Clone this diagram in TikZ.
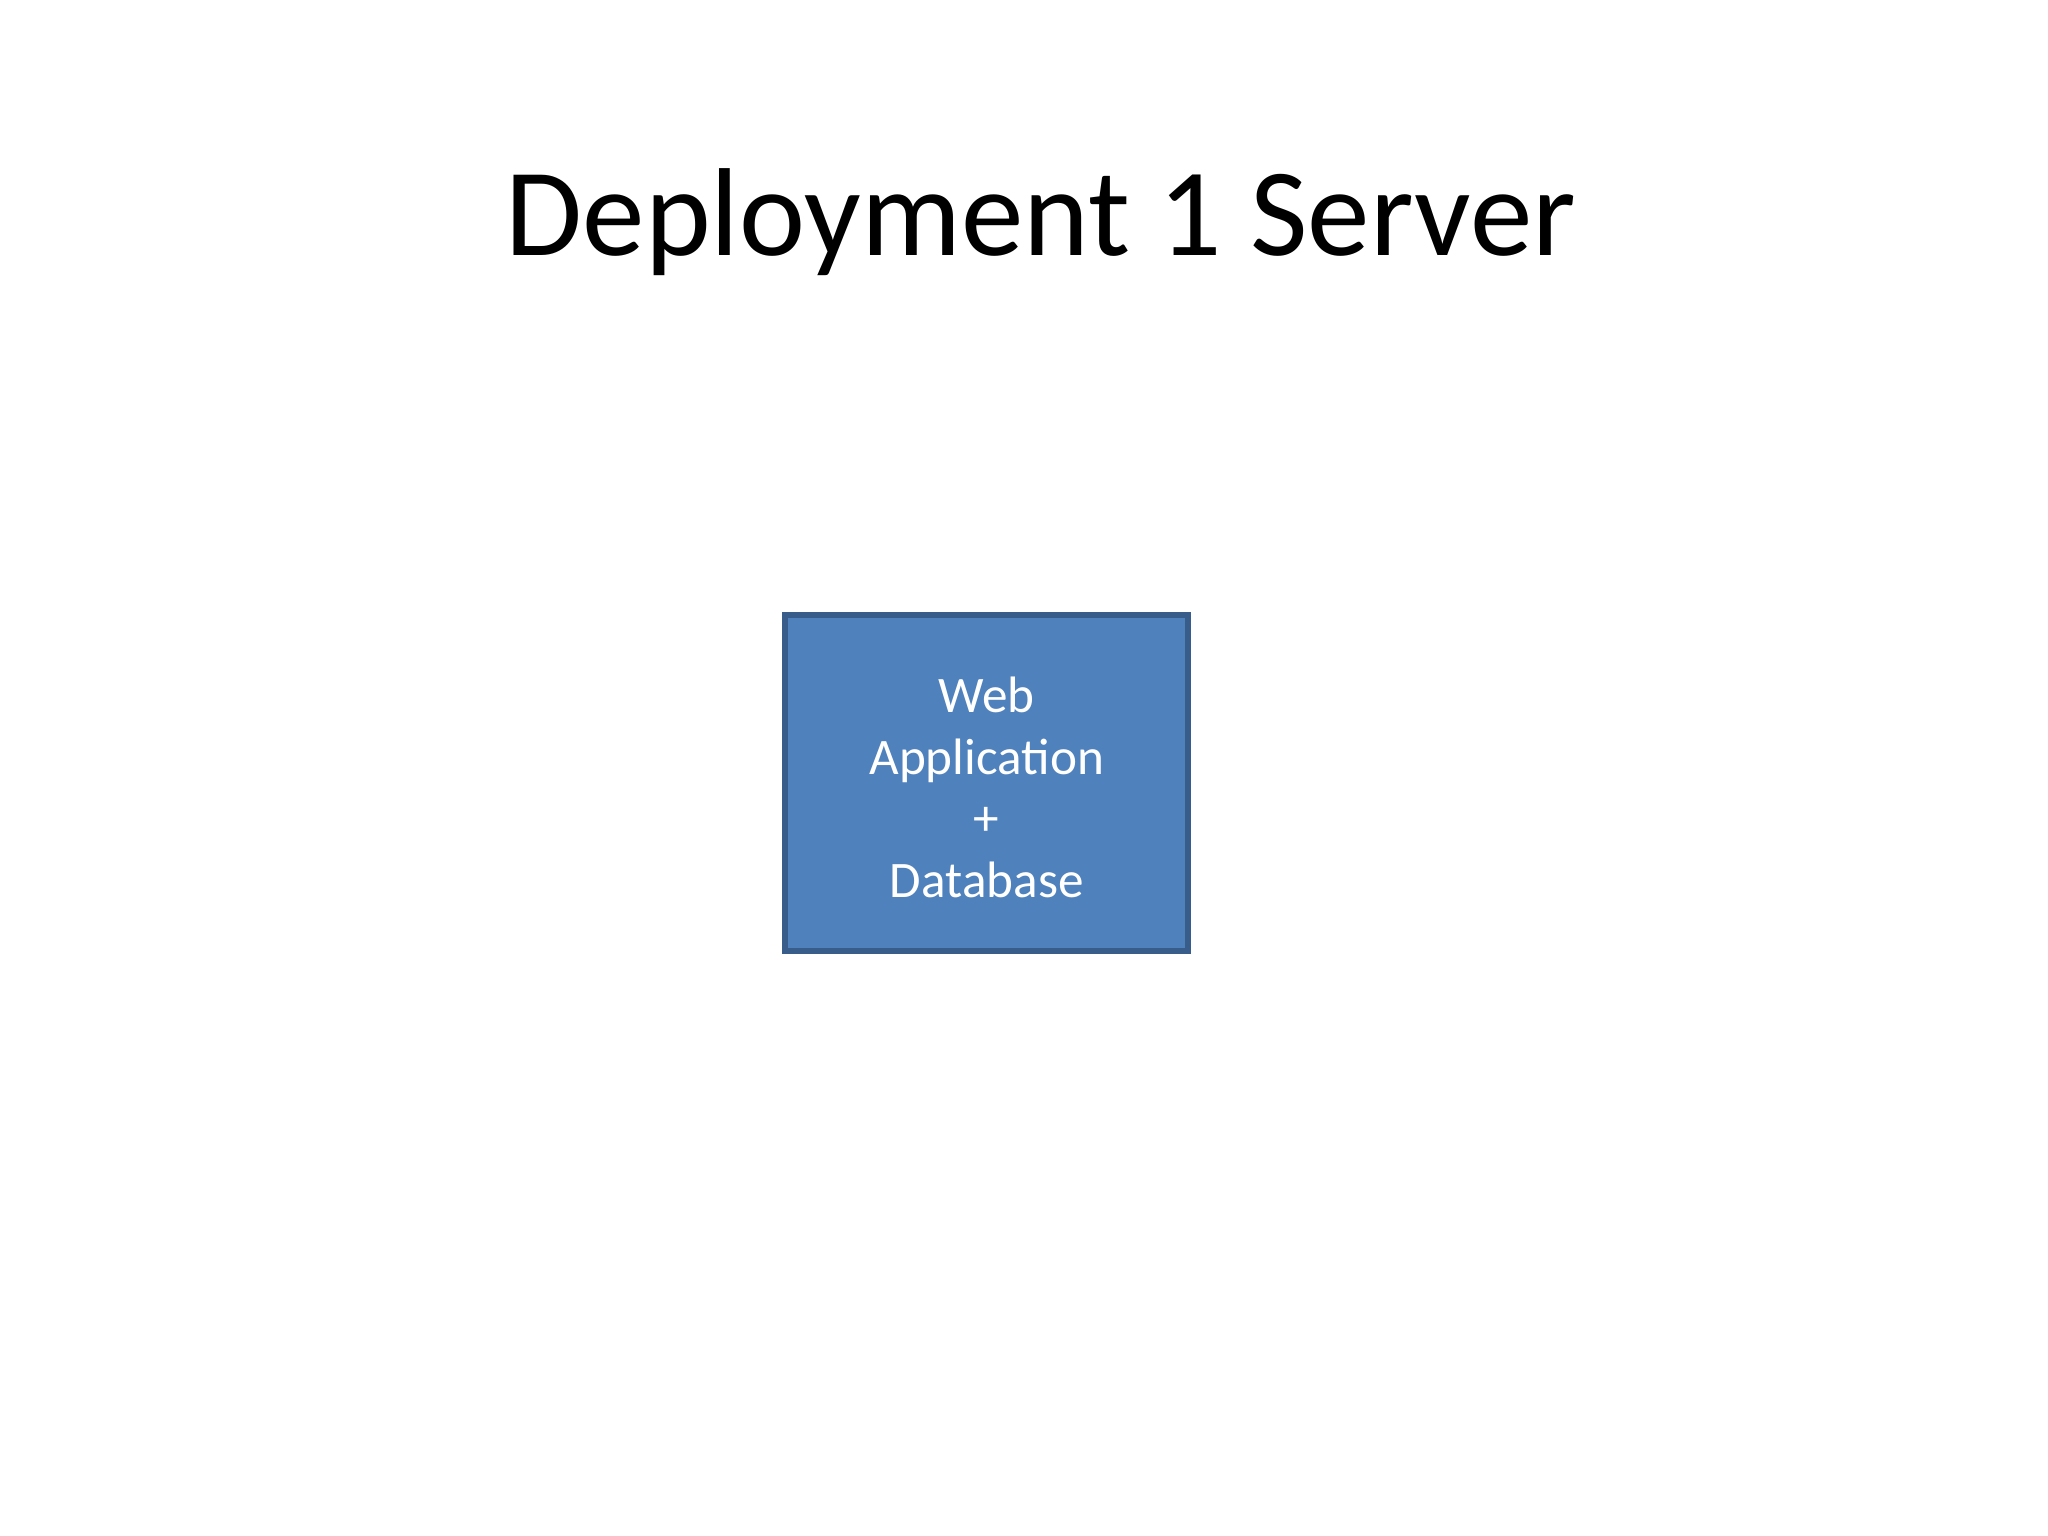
\documentclass[tikz,border=0pt]{standalone}
\usepackage{fontspec}
\setmainfont{Carlito}
\definecolor{boxfill}{HTML}{4F81BD}
\definecolor{boxborder}{HTML}{385D8A}
\tikzset{
  titletext/.style={anchor=base, text=black, font=\fontsize{44}{53}\selectfont},
  serverbox/.style={draw=boxborder, fill=boxfill, line width=2.1pt, minimum width=141.7pt, minimum height=118.2pt, inner sep=0pt, text=white, align=center, font=\fontsize{18}{21.6}\selectfont}
}
\begin{document}
\begin{tikzpicture}
\useasboundingbox[fill=white] (0pt,0pt) rectangle (720pt,-540pt);
\node[titletext] (title) at (366pt,-89.7pt) {Deployment 1 Server};
\node[serverbox] (server) at (346.9pt,-275.3pt) {\rule{0pt}{15.5pt}Web\\Application\\+\\Database};
\end{tikzpicture}
\end{document}
